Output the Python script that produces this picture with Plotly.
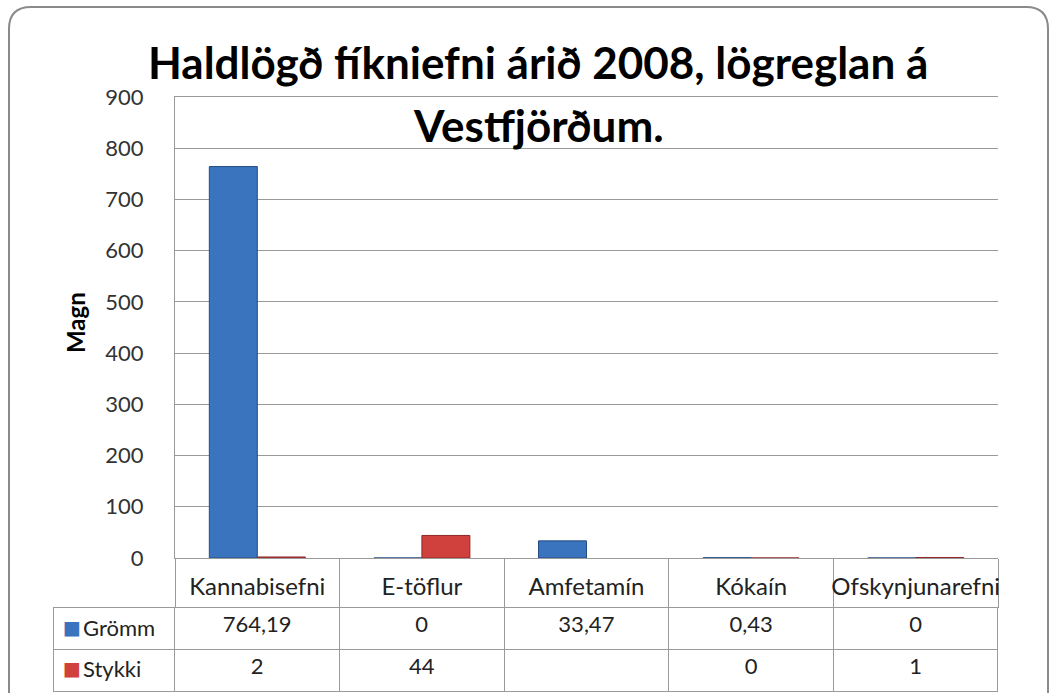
import plotly.graph_objects as go

categories = ["Kannabisefni", "E-töflur", "Amfetamín", "Kókaín", "Ofskynjunarefni"]
gromm = [764.19, 0, 33.47, 0.43, 0]
stykki = [2, 44, None, 0, 1]
series_names = ["Grömm", "Stykki"]
y_ticks = [0, 100, 200, 300, 400, 500, 600, 700, 800, 900]

BLUE = "#3A74BE"
BLUE_EDGE = "#244C84"
RED = "#D0403C"
RED_EDGE = "#8E2826"
GRID = "#9A9A9A"
FONT = "Lato"

W, H = 1056, 693
L, R, T, B = 53, 58, 97, 0
PW, PH = W - L - R, H - T - B


def px2x(px):
    return (px - L) / PW


def px2y(py):
    return (H - B - py) / PH


def fmt(v):
    if v is None:
        return ""
    if float(v).is_integer():
        return str(int(v))
    return f"{v:.2f}".replace(".", ",")


fig = go.Figure()
fig.add_trace(go.Bar(x=categories, y=gromm, name=series_names[0],
                     marker=dict(color=BLUE, line=dict(color=BLUE_EDGE, width=1))))
fig.add_trace(go.Bar(x=categories, y=stykki, name=series_names[1],
                     marker=dict(color=RED, line=dict(color=RED_EDGE, width=1))))

header_vals = [""] + [fmt(v) for v in gromm]
cell_vals = [[""]] + [[fmt(v)] for v in stykki]

fig.add_trace(go.Table(
    domain=dict(x=[0, 1], y=[0, px2y(607)]),
    columnwidth=[122, 165, 165, 165, 165, 165],
    header=dict(values=header_vals, height=42, align="center",
                line=dict(color=GRID, width=1), fill=dict(color="white"),
                font=dict(family=FONT, size=22, color="#222")),
    cells=dict(values=cell_vals, height=42, align="center",
               line=dict(color=GRID, width=1), fill=dict(color="white"),
               font=dict(family=FONT, size=22, color="#222")),
))

# rounded outer frame
x0, x1, y0, y1, r = 9, 1048, 7, 740, 22
path = (f"M {px2x(x0)},{px2y(y0 + r)} L {px2x(x0)},{px2y(y1)} "
        f"M {px2x(x0)},{px2y(y0 + r)} Q {px2x(x0)},{px2y(y0)} {px2x(x0 + r)},{px2y(y0)} "
        f"L {px2x(x1 - r)},{px2y(y0)} Q {px2x(x1)},{px2y(y0)} {px2x(x1)},{px2y(y0 + r)} "
        f"L {px2x(x1)},{px2y(y1)}")

row_labels = []
for name, color, ypx in [(series_names[0], BLUE, 627), (series_names[1], RED, 668)]:
    row_labels.append(dict(text="■", x=px2x(62), y=px2y(ypx), xref="paper", yref="paper",
                           showarrow=False, xanchor="left", yanchor="middle", borderpad=0,
                           font=dict(family="DejaVu Sans", size=19, color=color)))
    row_labels.append(dict(text=name, x=px2x(82), y=px2y(ypx), xref="paper", yref="paper",
                           showarrow=False, xanchor="left", yanchor="middle", borderpad=0,
                           font=dict(family=FONT, size=22, color="#222")))

fig.update_layout(
    template="none",
    width=W, height=H,
    margin=dict(l=L, r=R, t=T, b=B, pad=0),
    paper_bgcolor="white", plot_bgcolor="white",
    showlegend=False,
    barmode="group", bargap=0.417, bargroupgap=0,
    font=dict(family=FONT, color="#222"),
    shapes=[dict(type="path", path=path, xref="paper", yref="paper",
                 line=dict(color="#8A8A8A", width=2), layer="below")],
    annotations=[
        dict(text="Haldlögð fíkniefni árið 2008, lögreglan á", x=px2x(538), y=px2y(62),
             xref="paper", yref="paper", showarrow=False, xanchor="center", yanchor="middle",
             font=dict(family=FONT, size=44, color="#000", weight="bold")),
        dict(text="Vestfjörðum.", x=px2x(538), y=px2y(125),
             xref="paper", yref="paper", showarrow=False, xanchor="center", yanchor="middle",
             font=dict(family=FONT, size=44, color="#000", weight="bold")),
        dict(text="Magn", x=px2x(75), y=px2y(323), xref="paper", yref="paper",
             showarrow=False, textangle=-90, xanchor="center", yanchor="middle",
             font=dict(family=FONT, size=24, color="#000", weight="bold")),
    ] + row_labels,
    xaxis=dict(domain=[px2x(175), 1], type="category", tickson="boundaries",
               ticks="outside", ticklen=49, tickcolor=GRID, tickwidth=1,
               showline=True, linecolor=GRID, linewidth=1, mirror=True,
               ticklabelstandoff=7, automargin=False, tickangle=0,
               tickfont=dict(family=FONT, size=24, color="#222"), showgrid=False,
               zeroline=False),
    yaxis=dict(domain=[px2y(558), 1], range=[0, 900], tickvals=y_ticks,
               showgrid=True, gridcolor=GRID, gridwidth=1,
               showline=True, linecolor=GRID, linewidth=1,
               zeroline=True, zerolinecolor=GRID, zerolinewidth=1,
               ticks="", ticklabelstandoff=26, automargin=False,
               tickfont=dict(family=FONT, size=22, color="#333")),
)

fig.write_html("out.html", config={"displayModeBar": False},
               post_script="document.body.style.margin='0';")
